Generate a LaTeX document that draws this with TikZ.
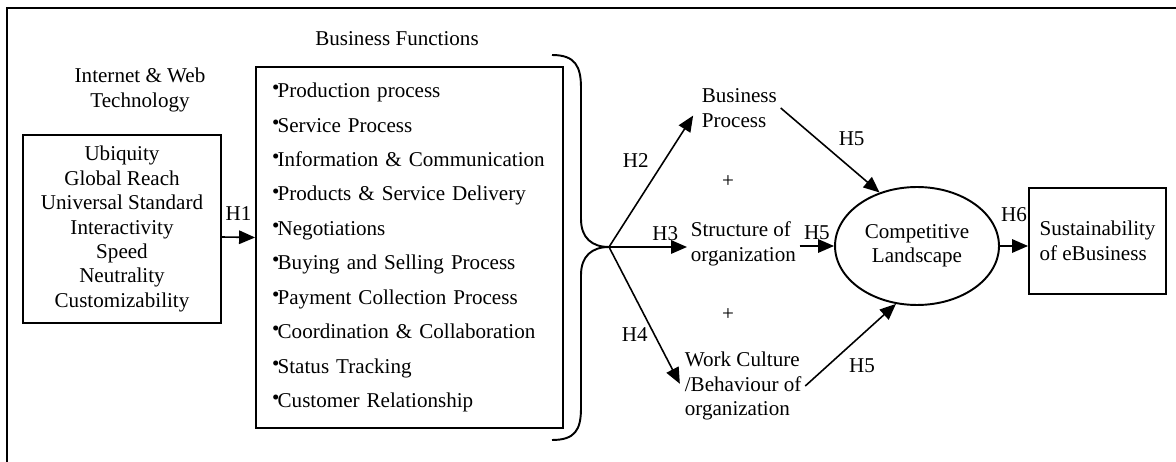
\documentclass[tikz,border=0pt]{standalone}
\usepackage{fontspec}
\setmainfont{Liberation Serif}
\usetikzlibrary{arrows.meta}
\usetikzlibrary{shapes}
\usetikzlibrary{shapes.geometric}

\newcommand{\fbul}{\raisebox{0.3ex}{\fontsize{12}{12}\selectfont\textbullet}\kern-1pt}

\begin{document}
\begin{tikzpicture}[x = 0.02cm, y = -0.02cm]
\tikzset{
   >={Triangle[length = 0.32cm, width = 0.27cm]},
   every node/.style = {font = \fontsize{12}{13.9}\selectfont},
   array/.style = {rectangle, draw, line width = 1.1pt},
   tech_box/.style = {array, minimum width = 3.96cm, minimum height = 3.76cm, align = center},
   func_box/.style = {array, minimum width = 6.14cm, minimum height = 7.22cm, text width = 5.5cm, align = left, font = \fontsize{12}{19.6}\selectfont},
   out_box/.style = {array, minimum width = 2.74cm, minimum height = 2.12cm, align = left},
   factor/.style = {inner sep = 2pt, align = left, anchor = west},
   model/.style = {ellipse, draw, line width = 1.1pt, minimum width = 3.24cm, minimum height = 2.36cm, align = center},
   link/.style = {->, line width = 0.9pt}
 }
  \useasboundingbox (0,0) rectangle (1176,462);
  \draw [line width = 1.1pt] (7,462) -- (7,8) -- (1176,8);

  \node (tech_title) at (140,90) [align = center] {Internet \& Web\\Technology};
  \node [tech_box] (tech) at (122,229) {Ubiquity\\Global Reach\\Universal Standard\\Interactivity\\Speed\\Neutrality\\Customizability};

  \node (func_title) at (397,39) {Business Functions};
  \node [func_box] (func) at (409.5,247.5) {\fbul Production process\\\fbul Service Process\\\fbul Information \& Communication\\\fbul Products \& Service Delivery\\\fbul Negotiations\\\fbul Buying and Selling Process\\\fbul Payment Collection Process\\\fbul Coordination \& Collaboration\\\fbul Status Tracking\\\fbul Customer Relationship};

  \draw [link] ([yshift = -0.16cm]tech.east) -- ([yshift = 0.2cm]func.west)
        node [midway, above = 6pt] {H1};

  % brace gathering the business functions
  \coordinate (tip) at (609,247);
  \draw [line width = 1.1pt] (552,55) .. controls (575,55) and (581,66) .. (581,88) -- (581,219)
        .. controls (581,238) and (592,247) .. (tip)
        .. controls (592,247) and (581,256) .. (581,275) -- (581,408)
        .. controls (581,430) and (575,440) .. (552,440);

  \node [factor] (bp) at (698,108) {Business\\Process};
  \node [factor] (st) at (687,244) {Structure of\\organization};
  \node [factor] (wc) at (681,386) {Work Culture\\/Behaviour of\\organization};
  \node (plus_top) at (728,182) {+};
  \node (plus_bottom) at (728,315) {+};

  \node [model] (cl) at (917,246) {Competitive\\Landscape};
  \node [out_box] (sb) at (1097.5,241) {Sustainability\\of eBusiness};

  \draw [link, shorten > = 0.18cm] (tip) -- (bp.west) node [pos = 0.62, left = 5pt] {H2};
  \draw [link] (tip) -- (st.west |- tip) node [pos = 0.72, above] {H3};
  \draw [link, shorten > = 0.05cm] (tip) -- (wc.west) node [pos = 0.63, left] {H4};

  \draw [link] (bp.east) -- (cl.125) node [pos = 0.52, above right] {H5};
  \draw [link] (st.east |- cl.west) -- (cl.west) node [midway, above] {H5};
  \draw [link] (wc.east) -- (cl.250) node [pos = 0.41, below right] {H5};

  \draw [link] (cl.east) -- (sb.west |- cl.east) node [midway, above = 10pt] {H6};

\end{tikzpicture}
\end{document}
